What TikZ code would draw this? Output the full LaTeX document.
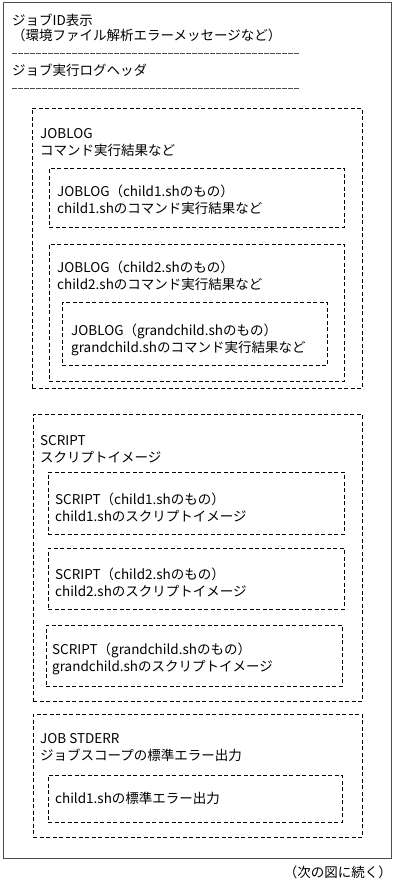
\documentclass[tikz,border=0pt]{standalone}
\usepackage{fontspec}
\setmainfont{Noto Sans CJK JP}
\usetikzlibrary{positioning}

\tikzset{
  frame/.style={draw=black!70, line width=0.9pt, inner sep=0pt, outer sep=0pt, anchor=north west},
  dashbox/.style={draw, dash pattern=on 4pt off 2.5pt, line width=0.8pt, inner sep=0pt, outer sep=0pt, anchor=north west},
  lbl/.style={anchor=base west, inner sep=0pt, align=left, font=\fontsize{13.5}{17}\selectfont},
  rulerline/.style={draw=black!70, dash pattern=on 5pt off 1pt, line width=0.6pt},
}

\begin{document}
\begin{tikzpicture}[x=1pt, y=-1pt]
  \useasboundingbox (0,0) rectangle (405,883);

  % Whole output (base anchor = last line)
  \node[frame, minimum width=388pt, minimum height=856pt] (whole) at (3,2) {};
  \node[lbl] (jobid) at (12,41) {ジョブID表示\\[-2pt]（環境ファイル解析エラーメッセージなど）};
  \coordinate (ruleAl) at (12,53);
  \coordinate (ruleAr) at (300,53);
  \draw[rulerline] (ruleAl) -- (ruleAr);
  \node[lbl] (header) at (12,75) {ジョブ実行ログヘッダ};
  \coordinate (ruleBl) at (12,88);
  \coordinate (ruleBr) at (300,88);
  \draw[rulerline] (ruleBl) -- (ruleBr);

  % JOBLOG
  \node[dashbox, minimum width=330pt, minimum height=280pt] (joblog) at (32,108) {};
  \node[lbl] (joblogtxt) at (40,155) {JOBLOG\\コマンド実行結果など};
  \node[dashbox, minimum width=295pt, minimum height=59pt] (logchildA) at (49,168) {};
  \node[lbl] (logchildAtxt) at (57,213) {JOBLOG（child1.shのもの）\\child1.shのコマンド実行結果など};
  \node[dashbox, minimum width=295pt, minimum height=137pt] (logchildB) at (49,244) {};
  \node[lbl] (logchildBtxt) at (57,289) {JOBLOG（child2.shのもの）\\child2.shのコマンド実行結果など};
  \node[dashbox, minimum width=265pt, minimum height=63pt] (loggrand) at (62,302) {};
  \node[lbl] (loggrandtxt) at (71,352) {JOBLOG（grandchild.shのもの）\\grandchild.shのコマンド実行結果など};

  % SCRIPT
  \node[dashbox, minimum width=329pt, minimum height=287pt] (script) at (33,414) {};
  \node[lbl] (scripttxt) at (40,462) {SCRIPT\\スクリプトイメージ};
  \node[dashbox, minimum width=296pt, minimum height=62pt] (scrchildA) at (48,472) {};
  \node[lbl] (scrchildAtxt) at (55,521) {SCRIPT（child1.shのもの）\\child1.shのスクリプトイメージ};
  \node[dashbox, minimum width=296pt, minimum height=61pt] (scrchildB) at (48,548) {};
  \node[lbl] (scrchildBtxt) at (55,596) {SCRIPT（child2.shのもの）\\child2.shのスクリプトイメージ};
  \node[dashbox, minimum width=296pt, minimum height=61pt] (scrgrand) at (46,625) {};
  \node[lbl] (scrgrandtxt) at (52,671) {SCRIPT（grandchild.shのもの）\\grandchild.shのスクリプトイメージ};

  % JOB STDERR
  \node[dashbox, minimum width=329pt, minimum height=123pt] (stderr) at (33,714) {};
  \node[lbl] (stderrtxt) at (40,760) {JOB STDERR\\ジョブスコープの標準エラー出力};
  \node[dashbox, minimum width=294pt, minimum height=47pt] (errchildA) at (48,775) {};
  \node[lbl] (errchildAtxt) at (55,803) {child1.shの標準エラー出力};

  % continued
  \node[lbl, anchor=base east] (contd) at (392,877) {（次の図に続く）};
\end{tikzpicture}
\end{document}
